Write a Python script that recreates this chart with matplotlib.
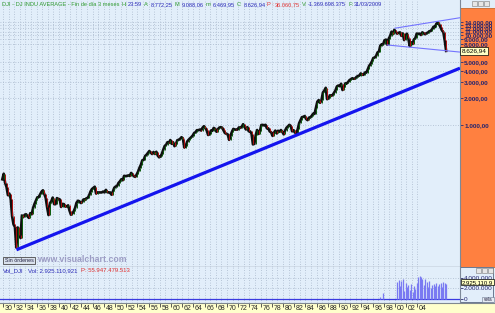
import numpy as np
import pandas as pd
import matplotlib
matplotlib.use("Agg")
import matplotlib.pyplot as plt
from matplotlib.patches import Rectangle
from matplotlib.ticker import FixedLocator, NullLocator, FuncFormatter
import matplotlib.transforms as mtransforms

plt.rcParams['font.family'] = ['Liberation Sans', 'DejaVu Sans']

W, H = 495, 313

# ---------------- data ----------------
first_quarter = '1929Q4'
last_quarter = '2009Q1'
close_1929_1939 = [248,
                   286, 226, 204, 165, 172, 150, 96, 78, 73, 43, 72, 60,
                   55, 98, 94, 100, 101, 96, 92, 104, 101, 119, 132, 144,
                   156, 157, 168, 180, 187, 169, 154, 121, 99, 134, 141, 155,
                   131, 131, 153, 150]
close_1940s = [148, 122, 132, 131, 123, 124, 127, 111, 100, 103, 109, 119,
               136, 143, 141, 135, 138, 148, 146, 152, 154, 164, 181, 193,
               199, 205, 172, 177, 177, 177, 177, 181, 177, 189, 178, 177,
               177, 167, 182, 200]
close_1950s = [206, 209, 226, 235, 248, 242, 271, 269, 270, 274, 270, 292,
               280, 268, 264, 281, 303, 334, 361, 404, 409, 451, 466, 488,
               512, 492, 475, 500, 475, 503, 456, 436, 446, 478, 532, 584,
               602, 644, 632, 679]
close_1960s = [616, 641, 580, 616, 676, 684, 701, 731, 706, 561, 579, 652,
               683, 707, 733, 763, 813, 831, 875, 874, 889, 868, 931, 969,
               924, 870, 774, 786, 866, 860, 927, 905, 840, 898, 936, 944,
               935, 873, 813, 800]
close_1970s = [785, 683, 761, 839, 904, 891, 887, 890, 940, 929, 953, 1020,
               951, 891, 947, 851, 847, 802, 608, 616, 768, 879, 794, 852,
               1000, 1003, 990, 1005, 919, 916, 847, 831, 757, 819, 866, 805,
               862, 842, 878, 839]
close_1980s = [786, 868, 932, 964, 1004, 977, 850, 875, 823, 812, 896, 1047,
               1130, 1222, 1233, 1259, 1165, 1133, 1207, 1212, 1267, 1336, 1329, 1547,
               1819, 1893, 1768, 1896, 2305, 2419, 2596, 1939, 1989, 2142, 2113, 2169,
               2294, 2440, 2693, 2753]
close_1990s = [2707, 2881, 2453, 2634, 2914, 2907, 3017, 3169, 3236, 3319, 3272, 3301,
               3436, 3516, 3555, 3754, 3636, 3625, 3843, 3834, 4158, 4556, 4789, 5117,
               5587, 5655, 5882, 6448, 6584, 7673, 7945, 7908, 8800, 8952, 7843, 9181,
               9786, 10971, 10337, 11497]
close_2000s = [10922, 10448, 10651, 10788, 9879, 10502, 8848, 10022,
               10404, 9243, 7592, 8342, 7992, 8985, 9275, 10454,
               10358, 10435, 10080, 10783, 10504, 10275, 10569, 10718,
               11109, 11150, 11679, 12463, 12354, 13409, 13896, 13265,
               12263, 11350, 10851, 8776, 6700]

price_ticks = [1000, 2000, 3000, 4000, 5000, 8000, 9000, 10000, 11000, 12000, 13000, 14000]
last_label = "8.626,94"

support_years = [1932.4, 2011.6]
support_values = [40.6, 4300]
channel_top_years = [2000.0, 2011.6]
channel_top_values = [12000, 15700]
channel_low_years = [1998.6, 2011.6]
channel_low_values = [7800, 6500]

vol_early_quarters = ['1997Q2', '1997Q4']
vol_early_values = [0.35, 1.15]          # millions
vol_first_quarter = '2000Q2'
vol_last_quarter = '2009Q1'
vol_values = [3.3, 3.6, 2.4, 3.5, 3.8, 1.5, 3.1, 2.2, 2.7, 1.6, 2.8, 1.2,
              2.5, 1.8, 3.0, 4.2, 4.4, 4.3, 3.9, 2.6, 3.8, 3.3, 2.2, 3.4,
              2.0, 2.6, 2.9, 2.4, 3.0, 2.5, 2.8, 3.1, 2.3, 3.3, 3.1, 2.93]
vol_ticks = [0, 2, 4]
vol_ticklabels = ['0', '2.000.000', '4.000.000']
vol_label = "2.925.110,9"

year_labels = ['30', '32', '34', '36', '38', '40', '42', '44', '46', '48', '50', '52',
               '54', '56', '58', '60', '62', '64', '66', '68', '70', '72', '74', '76',
               '78', '80', '82', '84', '86', '88', '90', '92', '94', '96', '98', '00',
               '02', '04']
label_years = [1930 + 2 * i for i in range(len(year_labels))]
grid_years = list(range(1930, 2005))

GREEN, BLUE, RED = '#2f9a2f', '#2a2ab8', '#e03030'
header_parts = [
    ("DJI - DJ INDU AVERAGE - Fin de día 3 meses", GREEN, 2.0),
    ("H:", GREEN, 0.8), ("23:59", BLUE, 2.0),
    ("A:", GREEN, 0.8), ("8.772,25", BLUE, 2.0),
    ("M:", GREEN, 0.8), ("9.088,06", BLUE, 2.0),
    ("m:", GREEN, 0.8), ("6.469,95", BLUE, 2.0),
    ("C:", GREEN, 0.8), ("8.626,94", BLUE, 2.0),
    ("P :", RED, 0.8), ("36.060,75", RED, 2.0),
    ("V:", GREEN, 0.8), ("-1.369.698.375", BLUE, 2.0),
    ("F:", GREEN, 0.8), ("31/03/2009", BLUE, 0),
]
vol_parts = [
    ("Vol_DJI", BLUE, 4.0),
    ("Vol: 2.925.110,921", BLUE, 4.0),
    ("P: 55.947.479.513", RED, 0),
]

# ---------------- helpers ----------------
def box(x0, y0, x1, y1):
    return [x0 / W, 1 - y1 / H, (x1 - x0) / W, (y1 - y0) / H]

def qyear(periods):
    return np.array([p.year + (p.quarter - 0.5) / 4 for p in periods])

def eu(v, pos=None):
    s = f"{v:,.2f}"
    return s.replace(',', 'X').replace('.', ',').replace('X', '.')

BG = '#e2eefa'
GRID = '#a9b8cc'
XMIN = 1929.46
PX_PER_YEAR = 5.6
XMAX = XMIN + 460 / PX_PER_YEAR

closes = np.array(close_1929_1939 + close_1940s + close_1950s + close_1960s +
                  close_1970s + close_1980s + close_1990s + close_2000s, dtype=float)
qx = qyear(pd.period_range(first_quarter, last_quarter, freq='Q'))

fig = plt.figure(figsize=(W / 100, H / 100), dpi=100)
fig.patch.set_facecolor(BG)

# orange price scale panel
fig.add_artist(Rectangle((460 / W, 1 - 267 / H), 35 / W, 259 / H, transform=fig.transFigure,
                         fc='#ff8040', ec='#c8682c', lw=0.6, zorder=-1))

# ---------------- main price panel ----------------
ax = fig.add_axes(box(0, 0, 460, 267))
ax.set_facecolor(BG)
ax.set_yscale('log')
ax.set_ylim(26.1, 24750)
ax.set_xlim(XMIN, XMAX)
ax.yaxis.set_major_locator(FixedLocator(price_ticks))
ax.yaxis.set_minor_locator(NullLocator())
ax.yaxis.set_major_formatter(FuncFormatter(eu))
ax.yaxis.tick_right()
ax.tick_params(axis='y', which='major', direction='out', length=2, width=0.6,
               color='#2a2a70', labelsize=4.6, labelcolor='#25256e', pad=1)
for lab in ax.get_yticklabels():
    lab.set_fontweight('bold')
ax.set_xticks(grid_years)
ax.tick_params(axis='x', length=0, labelbottom=False)
ax.grid(True, axis='both', ls=(0, (1, 2)), color=GRID, lw=0.6)
for s in ['top', 'left']:
    ax.spines[s].set_visible(False)
ax.spines['right'].set_color('#7d8898')
ax.spines['right'].set_linewidth(0.8)
ax.spines['bottom'].set_color('#5c6470')
ax.spines['bottom'].set_linewidth(0.9)

# price line + candle bodies
ax.plot(qx, closes, color='#101010', lw=1.9, zorder=3, solid_joinstyle='round')
opens = np.concatenate([[closes[0]], closes[:-1]])
up = closes >= opens
ax.vlines(qx[up], opens[up], closes[up], colors='#0c5c0c', lw=0.7, zorder=4)
ax.vlines(qx[~up], opens[~up], closes[~up], colors='#b01010', lw=0.7, zorder=4)

# trend lines
ax.plot(support_years, support_values, color='#1414ee', lw=2.3, zorder=5,
        solid_capstyle='butt')
ax.plot(channel_top_years, channel_top_values, color='#7474ff', lw=0.8, zorder=5)
ax.plot(channel_low_years, channel_low_values, color='#7474ff', lw=0.8, zorder=5)

# last value box
blend = mtransforms.blended_transform_factory(ax.transAxes, ax.transData)
ax.text(1.004, closes[-1], last_label, transform=blend, fontsize=4.6, color='black',
        ha='left', va='center', zorder=10,
        bbox=dict(boxstyle='square,pad=0.25', fc='#ffffc4', ec='black', lw=0.5))

# ---------------- volume panel ----------------
fig.add_artist(Rectangle((460 / W, 1 - 302 / H), 33 / W, 35 / H, transform=fig.transFigure,
                         fc=BG, ec='#6a7890', lw=0.7, zorder=-1))
vax = fig.add_axes(box(0, 267, 460, 303))
vax.set_facecolor(BG)
vax.set_xlim(XMIN, XMAX)
vax.set_ylim(-0.88, 6.18)
vax.set_yticks(vol_ticks)
vax.set_yticklabels(vol_ticklabels)
vax.yaxis.tick_right()
vax.tick_params(axis='y', direction='out', length=2, width=0.6, color='#2a2a70',
                labelsize=4.6, labelcolor='#25256e', pad=1)
vax.set_xticks(grid_years)
vax.tick_params(axis='x', length=0, labelbottom=False)
vax.grid(True, axis='both', ls=(0, (1, 2)), color=GRID, lw=0.6)
for s in ['top', 'left', 'bottom']:
    vax.spines[s].set_visible(False)
vax.spines['right'].set_color('#7d8898')
vax.spines['right'].set_linewidth(0.8)
vax.axhline(0, color='#3a3ae0', lw=0.9, zorder=3)
vx = qyear(pd.period_range(vol_first_quarter, vol_last_quarter, freq='Q'))
vax.vlines(vx, 0, vol_values, colors='#7a7af2', lw=0.9, zorder=4)
ex = qyear([pd.Period(q, freq='Q') for q in vol_early_quarters])
vax.vlines(ex, 0, vol_early_values, colors='#7a7af2', lw=0.9, zorder=4)
vblend = mtransforms.blended_transform_factory(vax.transAxes, vax.transData)
vax.text(1.004, vol_values[-1] + 0.25, vol_label, transform=vblend, fontsize=4.3,
         color='black', ha='left', va='center', zorder=10,
         bbox=dict(boxstyle='square,pad=0.1', fc='#ffffc4', ec='black', lw=0.5))

# ---------------- x axis strip ----------------
sax = fig.add_axes(box(0, 303, 495, 313))
sax.set_facecolor('#ffffcc')
sax.set_xlim(XMIN, XMIN + 495 / PX_PER_YEAR)
sax.set_ylim(0, 1)
sax.set_xticks(label_years)
sax.xaxis.tick_top()
sax.tick_params(axis='x', direction='in', length=3, width=0.6, color='#404040',
                labeltop=False, labelbottom=False)
sax.set_yticks([])
for s in ['left', 'right', 'bottom']:
    sax.spines[s].set_visible(False)
sax.spines['top'].set_color('#808890')
sax.spines['top'].set_linewidth(0.8)
for yr, lab in zip(label_years, year_labels):
    sax.text(yr + 0.3, 0.42, lab, fontsize=5, color='#282828', ha='left', va='center')

# ---------------- decorations ----------------
# window buttons
for (bx, by) in [(472, 1), (478, 1), (484, 1), (476, 268), (482, 268), (488, 268)]:
    fig.add_artist(Rectangle((bx / W, 1 - (by + 5) / H), 5 / W, 5 / H,
                             transform=fig.transFigure, fc='#e6e6e6', ec='#7a7a7a',
                             lw=0.4, zorder=20))

# "Sin órdenes" button
fig.add_artist(Rectangle((3 / W, 1 - 264 / H), 32 / W, 7 / H, transform=fig.transFigure,
                         fc='#dae2ec', ec='#4a4a4a', lw=0.6, zorder=20))
fig.text(19 / W, 1 - 260.6 / H, "Sin órdenes", fontsize=3.9, color='#202040',
         ha='center', va='center', zorder=21)
fig.text(37 / W, 1 - 260 / H, "www.visualchart.com", fontsize=6.3, fontweight='bold',
         color='#9c9cc4', ha='left', va='center', zorder=21)

# "vela" box
fig.add_artist(Rectangle((482 / W, 1 - 302 / H), 12 / W, 5 / H, transform=fig.transFigure,
                         fc='#e6ecf4', ec='#6a7890', lw=0.4, zorder=20))
fig.text(488 / W, 1 - 299.5 / H, "vela", fontsize=3.3, color='#202040',
         ha='center', va='center', zorder=21)

# header and volume caption, placed piece by piece
fig.canvas.draw()
rend = fig.canvas.get_renderer()

def write_parts(parts, x0, yc, size):
    x = x0
    for txt, col, gap in parts:
        t = fig.text(x / W, 1 - yc / H, txt, fontsize=size, color=col,
                     ha='left', va='center', zorder=22)
        bb = t.get_window_extent(renderer=rend)
        x = bb.x1 + gap

write_parts(header_parts, 2, 4.5, 4.1)
write_parts(vol_parts, 3, 271, 4.3)

fig.savefig('out.png', dpi=100, facecolor=fig.get_facecolor())
